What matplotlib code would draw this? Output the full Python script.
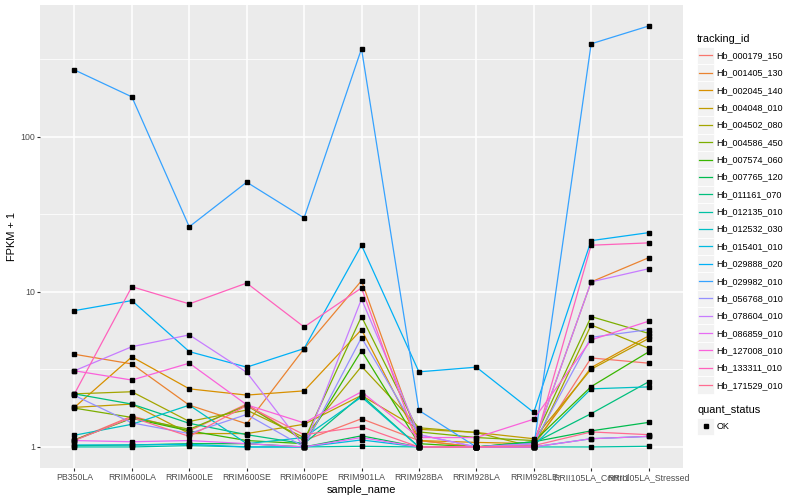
import numpy as np
import matplotlib
matplotlib.use("Agg")
import matplotlib.pyplot as plt
from matplotlib.lines import Line2D
from matplotlib.patches import Rectangle
from matplotlib.legend_handler import HandlerBase
from matplotlib.ticker import FixedLocator, NullFormatter

plt.rcParams['font.family'] = ['Liberation Sans', 'DejaVu Sans']

samples = ["PB350LA", "RRIM600LA", "RRIM600LE", "RRIM600SE", "RRIM600PE",
           "RRIM901LA", "RRIM928BA", "RRIM928LA", "RRIM928LE",
           "RRII105LA_Control", "RRII105LA_Stressed"]

tracking_ids = ["Hb_000179_150", "Hb_001405_130", "Hb_002045_140", "Hb_004048_010",
                "Hb_004502_080", "Hb_004586_450", "Hb_007574_060", "Hb_007765_120",
                "Hb_011161_070", "Hb_012135_010", "Hb_012532_030", "Hb_015401_010",
                "Hb_029888_020", "Hb_029982_010", "Hb_056768_010", "Hb_078604_010",
                "Hb_086859_010", "Hb_127008_010", "Hb_133311_010", "Hb_171529_010"]

palette = ["#F8766D", "#EA8331", "#D89000", "#C09B00", "#A3A500", "#7CAE00",
           "#39B600", "#00BB4E", "#00BF7D", "#00C1A3", "#00BFC4", "#00BAE0",
           "#00B0F6", "#35A2FF", "#9590FF", "#C77CFF", "#E76BF3", "#FA62DB",
           "#FF62BC", "#FF6C91"]

# FPKM + 1 per sample
hb_000179_150 = [1.11, 1.58, 1.27, 1.89, 1.10, 1.52, 1.10, 1.00, 1.00, 3.75, 3.47]
hb_001405_130 = [3.96, 3.43, 1.86, 1.41, 4.30, 11.8, 1.10, 1.00, 1.05, 11.6, 16.6]
hb_002045_140 = [1.80, 3.81, 2.37, 2.16, 2.30, 5.71, 1.10, 1.07, 1.05, 3.25, 5.20]
hb_004048_010 = [1.80, 1.89, 1.22, 1.22, 1.40, 2.15, 1.30, 1.24, 1.13, 3.17, 5.00]
hb_004502_080 = [2.20, 2.27, 1.46, 1.73, 1.15, 3.31, 1.33, 1.24, 1.00, 6.12, 4.33]
hb_004586_450 = [1.78, 1.55, 1.30, 1.85, 1.10, 6.93, 1.25, 1.15, 1.10, 6.93, 5.40]
hb_007574_060 = [1.11, 1.53, 1.27, 1.10, 1.05, 4.18, 1.05, 1.00, 1.08, 2.45, 4.10]
hb_007765_120 = [1.02, 1.03, 1.05, 1.05, 1.00, 1.18, 1.00, 1.00, 1.08, 1.27, 1.44]
hb_011161_070 = [2.20, 1.89, 1.42, 1.20, 1.05, 2.15, 1.00, 1.00, 1.06, 1.64, 2.63]
hb_012135_010 = [1.00, 1.00, 1.02, 1.00, 1.00, 1.01, 1.00, 1.00, 1.00, 1.00, 1.01]
hb_012532_030 = [1.19, 1.40, 1.86, 1.05, 1.15, 2.10, 1.00, 1.00, 1.02, 2.37, 2.44]
hb_015401_010 = [1.03, 1.03, 1.04, 1.00, 1.00, 1.11, 1.00, 1.00, 1.00, 1.13, 1.17]
hb_029888_020 = [7.57, 8.79, 4.12, 3.27, 4.31, 20.0, 3.05, 3.27, 1.67, 21.4, 24.1]
hb_029982_010 = [270.0, 181.0, 26.3, 51.0, 30.0, 370.0, 1.72, 1.00, 1.00, 398.0, 518.0]
hb_056768_010 = [2.15, 1.43, 1.22, 1.62, 1.00, 5.07, 1.20, 1.00, 1.05, 5.09, 5.71]
hb_078604_010 = [3.10, 4.43, 5.28, 3.03, 1.00, 9.00, 1.20, 1.00, 1.05, 11.6, 14.1]
hb_086859_010 = [1.10, 1.08, 1.10, 1.05, 1.00, 1.15, 1.00, 1.00, 1.00, 1.13, 1.17]
hb_127008_010 = [3.10, 2.70, 3.47, 1.87, 1.43, 2.27, 1.15, 1.15, 1.51, 4.90, 6.47]
hb_133311_010 = [2.20, 10.8, 8.37, 11.4, 5.94, 10.6, 1.00, 1.00, 1.00, 20.0, 20.7]
hb_171529_010 = [1.10, 1.55, 1.17, 1.85, 1.20, 1.35, 1.00, 1.00, 1.02, 1.25, 1.20]

series = [hb_000179_150, hb_001405_130, hb_002045_140, hb_004048_010, hb_004502_080,
          hb_004586_450, hb_007574_060, hb_007765_120, hb_011161_070, hb_012135_010,
          hb_012532_030, hb_015401_010, hb_029888_020, hb_029982_010, hb_056768_010,
          hb_078604_010, hb_086859_010, hb_127008_010, hb_133311_010, hb_171529_010]

y_ticks = [1, 10, 100]
y_tick_labels = ["1", "10", "100"]

fig = plt.figure(figsize=(8, 5), dpi=100)
ax = fig.add_axes([40 / 800, 1 - 468 / 500, (683 - 40) / 800, (468 - 5) / 500])
ax.set_facecolor("#EBEBEB")
for s in ax.spines.values():
    s.set_visible(False)

x = np.arange(len(samples))
for vals, col in zip(series, palette):
    ax.plot(x, vals, color=col, lw=0.9, zorder=3)
for vals in series:
    ax.plot(x, vals, ls="none", marker="s", ms=2.4, color="black", zorder=4)

ax.set_yscale("log")
allv = np.concatenate([np.asarray(v) for v in series])
lo, hi = np.log10(allv.min()), np.log10(allv.max())
pad = (hi - lo) * 0.05
ax.set_ylim(10 ** (lo - pad), 10 ** (hi + pad))
ax.set_xlim(-0.6, len(samples) - 0.4)

ax.yaxis.set_major_locator(FixedLocator(y_ticks))
ax.set_yticklabels(y_tick_labels)
ax.yaxis.set_minor_locator(FixedLocator([10 ** 0.5, 10 ** 1.5, 10 ** 2.5]))
ax.yaxis.set_minor_formatter(NullFormatter())
ax.set_xticks(x)
ax.set_xticklabels(samples)

ax.grid(True, which="major", color="white", lw=1.1, zorder=0)
ax.grid(True, which="minor", axis="y", color="white", lw=0.55, zorder=0)
ax.set_axisbelow(True)
ax.tick_params(which="major", length=2.0, width=0.8, color="#333333",
               labelsize=6.3, labelcolor="#4D4D4D", pad=1.6)
ax.tick_params(which="minor", length=0)

ax.set_xlabel("sample_name", fontsize=7.9, labelpad=2)
ax.set_ylabel("FPKM + 1", fontsize=7.9, labelpad=2)


class KeyLine(HandlerBase):
    def create_artists(self, legend, orig_handle, xdescent, ydescent, width, height, fontsize, trans):
        bg = Rectangle((-xdescent, -ydescent), width, height, facecolor="#F2F2F2",
                       edgecolor="white", lw=0.6, transform=trans)
        yc = -ydescent + height / 2
        ln = Line2D([-xdescent + width * 0.1, -xdescent + width * 0.9], [yc, yc],
                    color=orig_handle.get_color(), lw=orig_handle.get_linewidth(), transform=trans)
        return [bg, ln]


class KeyPoint(HandlerBase):
    def create_artists(self, legend, orig_handle, xdescent, ydescent, width, height, fontsize, trans):
        bg = Rectangle((-xdescent, -ydescent), width, height, facecolor="#F2F2F2",
                       edgecolor="white", lw=0.6, transform=trans)
        pt = Line2D([-xdescent + width / 2], [-ydescent + height / 2], ls="none",
                    marker="s", ms=2.6, color="black", transform=trans)
        return [bg, pt]


common = dict(loc="upper left", bbox_transform=fig.transFigure, frameon=False,
              fontsize=6.5, title_fontsize=7.9, handlelength=1.9, handleheight=2.58,
              labelspacing=0.0, handletextpad=0.25, borderpad=0, borderaxespad=0,
              alignment="left")

line_handles = [Line2D([], [], color=c, lw=0.9) for c in palette]
leg1 = ax.legend(line_handles, tracking_ids, title="tracking_id",
                 bbox_to_anchor=(697 / 800, 1 - 34 / 500),
                 handler_map={h: KeyLine() for h in line_handles}, **common)
leg1._legend_box.sep = 2
ax.add_artist(leg1)

ok_handle = Line2D([], [], ls="none", marker="s", color="black")
leg2 = ax.legend([ok_handle], ["OK"], title="quant_status",
                 bbox_to_anchor=(697 / 800, 1 - 405 / 500),
                 handler_map={ok_handle: KeyPoint()}, **common)
leg2._legend_box.sep = 2

fig.savefig("out.png", dpi=100)
